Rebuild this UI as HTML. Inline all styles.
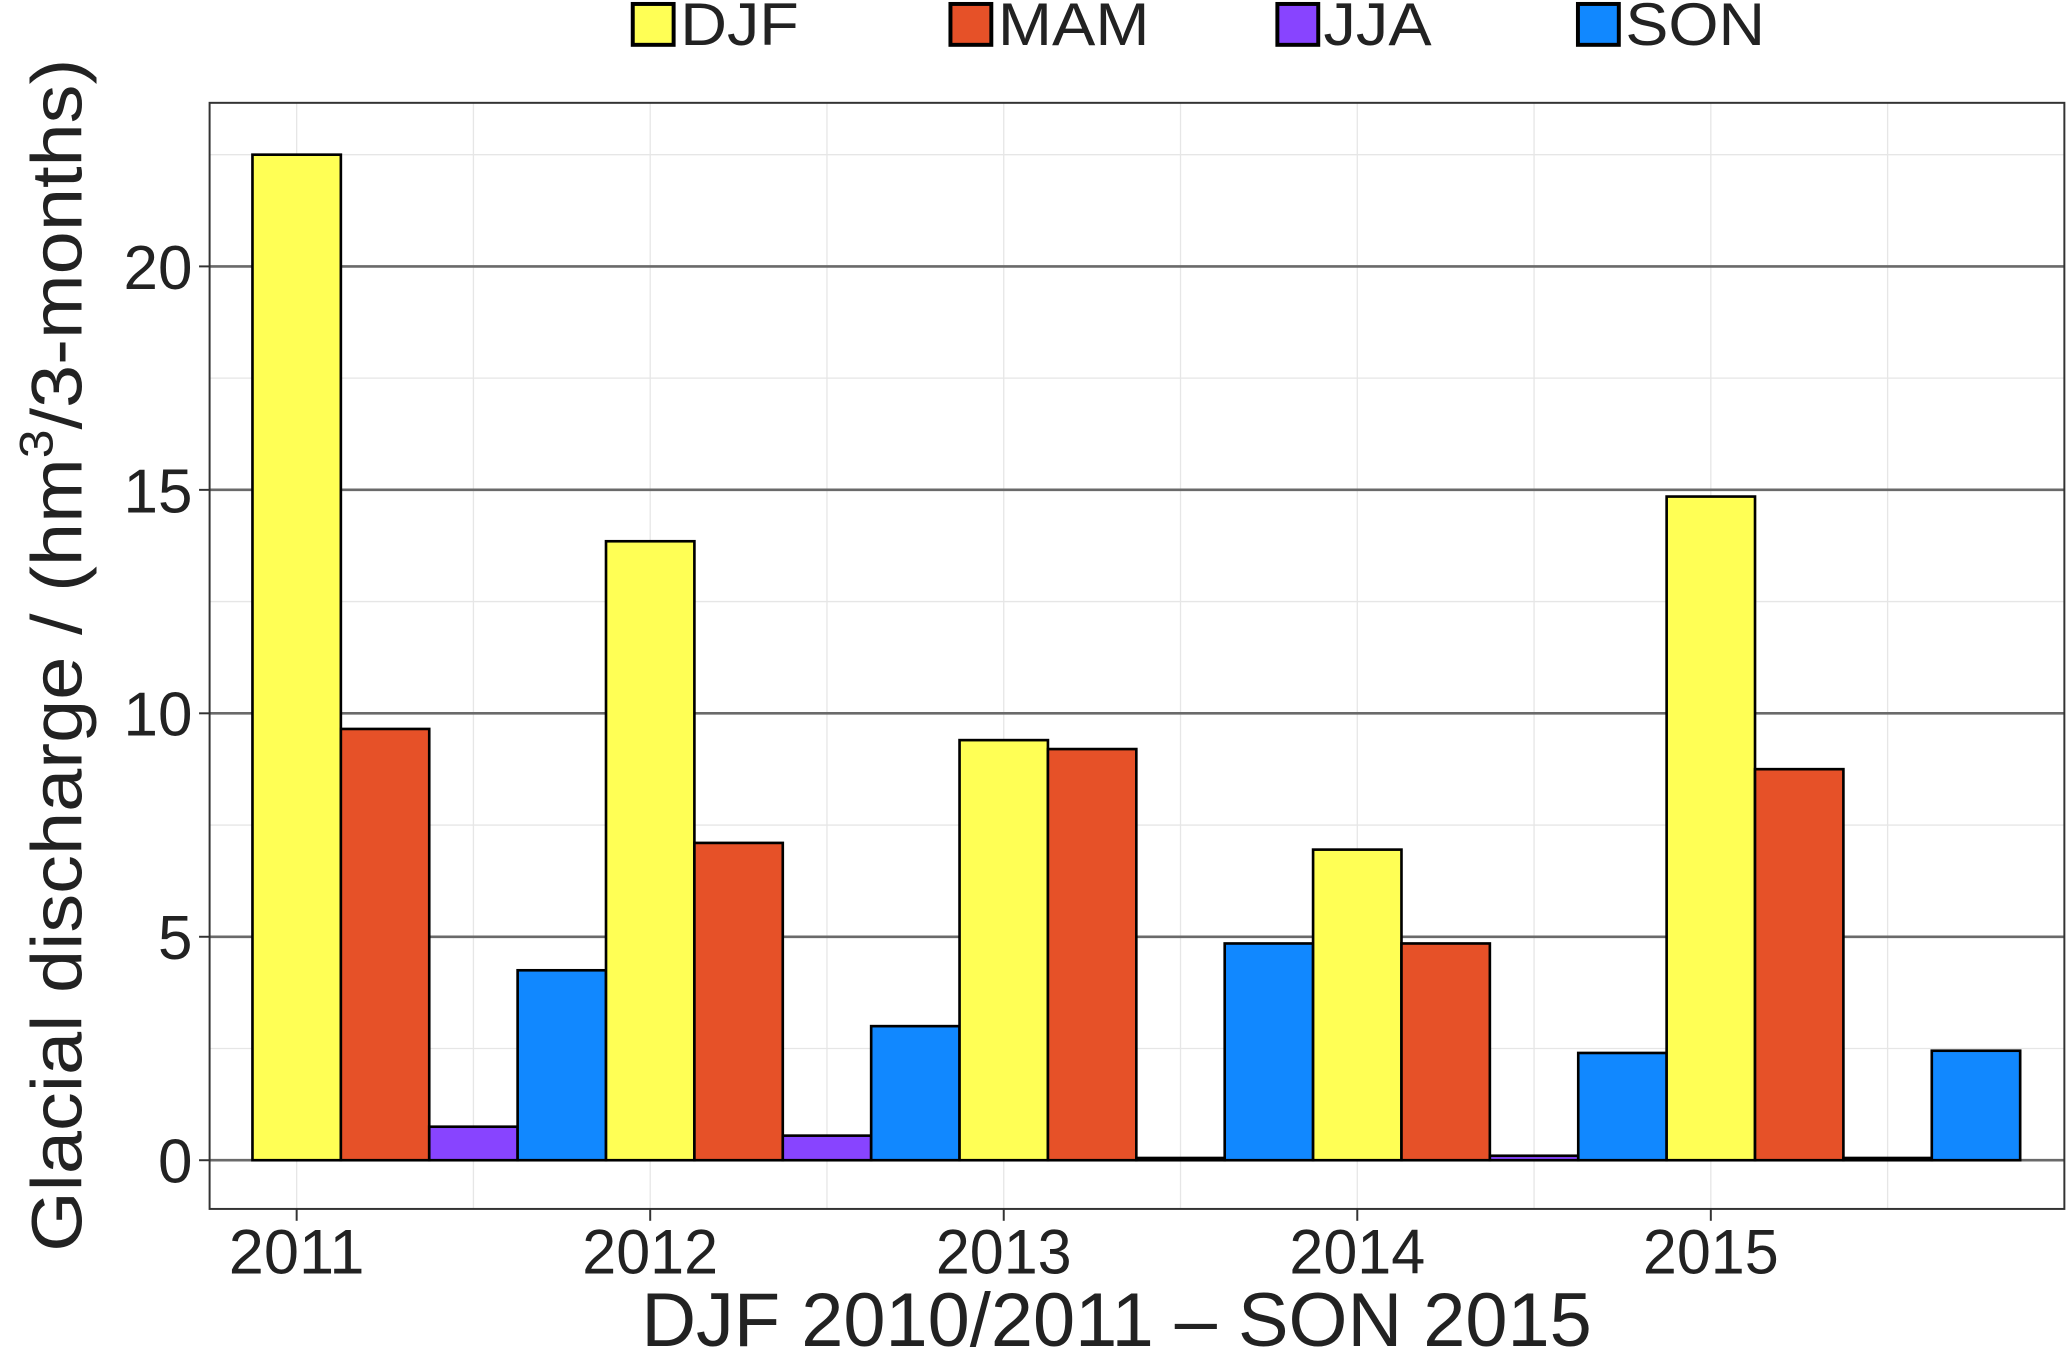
<!DOCTYPE html>
<html><head><meta charset="utf-8"><style>
html,body{margin:0;padding:0;background:#fff;}
svg{display:block;}
text{font-family:"Liberation Sans",sans-serif;fill:#222;}
</style></head><body>
<svg id="chart" width="2067" height="1350" viewBox="0 0 1568 1024" preserveAspectRatio="none" xmlns="http://www.w3.org/2000/svg">
<g id="grid"></g>
<g id="bars"></g>
<rect x="159" y="78" width="1407" height="839" fill="none" stroke="#333" stroke-width="1.5"/>
<g id="axes"></g>
<g>
  <g><rect x="480" y="3" width="31" height="31" fill="#FFFF55" stroke="#000" stroke-width="3"/><text x="516" y="34" font-size="46" textLength="90" lengthAdjust="spacingAndGlyphs">DJF</text></g>
  <g><rect x="721" y="3" width="31" height="31" fill="#E65128" stroke="#000" stroke-width="3"/><text x="757" y="34" font-size="46" textLength="115" lengthAdjust="spacingAndGlyphs">MAM</text></g>
  <g><rect x="969" y="3" width="31" height="31" fill="#8844FF" stroke="#000" stroke-width="3"/><text x="1004" y="34" font-size="46" textLength="82" lengthAdjust="spacingAndGlyphs">JJA</text></g>
  <g><rect x="1197" y="3" width="31" height="31" fill="#1188FF" stroke="#000" stroke-width="3"/><text x="1233" y="34" font-size="46" textLength="106" lengthAdjust="spacingAndGlyphs">SON</text></g>
</g>
<text x="847" y="1021" font-size="58" text-anchor="middle" textLength="721" lengthAdjust="spacingAndGlyphs">DJF 2010/2011 – SON 2015</text>
<text transform="translate(62,497) rotate(-90)" font-size="54" text-anchor="middle" textLength="905" lengthAdjust="spacingAndGlyphs">Glacial discharge / (hm<tspan font-size="36" dy="-22">3</tspan><tspan dy="22">/3-months)</tspan></text>
</svg>
<script>
const years = ["2011","2012","2013","2014","2015"];
const seasons = ["DJF","MAM","JJA","SON"];
const djf = [22.5, 13.85, 9.4, 6.95, 14.85];
const mam = [9.65, 7.1, 9.2, 4.85, 8.75];
const jja = [0.75, 0.55, 0.05, 0.1, 0.05];
const son = [4.25, 3.0, 4.85, 2.4, 2.45];
const yTicks = [0, 5, 10, 15, 20];
const yMinor = [2.5, 7.5, 12.5, 17.5, 22.5];

const NS = "http://www.w3.org/2000/svg";
const colors = ["#FFFF55","#E65128","#8844FF","#1188FF"];
const L = 159, R = 1566, T = 78, B = 917;
const xMin = -0.985, xMax = 20.0;
const yMin = -1.09, yMax = 23.66;
function xs(i){ return L + (i - xMin) / (xMax - xMin) * (R - L); }
function ys(v){ return B - (v - yMin) / (yMax - yMin) * (B - T); }
function mk(tag, attrs, parent){ const e = document.createElementNS(NS, tag); for (const k in attrs) e.setAttribute(k, attrs[k]); parent.appendChild(e); return e; }
const grid = document.getElementById('grid'), bars = document.getElementById('bars'), axes = document.getElementById('axes');

yMinor.forEach(v => {
  const l = mk('line', {x1:L, x2:R, y1:ys(v), y2:ys(v), stroke:'#e6e6e6', 'stroke-width':1}, grid);
  
  
});
years.forEach((y, k) => {
  [4*k, 4*k+2].forEach(i => {
    const l = mk('line', {x1:xs(i), x2:xs(i), y1:T, y2:B, stroke:'#e6e6e6', 'stroke-width':1}, grid);
    
    
  });
});
yTicks.forEach(v => {
  const l = mk('line', {x1:L, x2:R, y1:ys(v), y2:ys(v), stroke:'#6a6a6a', 'stroke-width':2}, grid);
  
  
  const t = mk('line', {x1:L-8, x2:L, y1:ys(v), y2:ys(v), stroke:'#333', 'stroke-width':1.5}, axes);
  
  
  const tx = mk('text', {x:L-13, y:ys(v)+17, 'font-size':47, 'text-anchor':'end'}, axes);
  
  
  tx.textContent = String(v);
});
const series = [djf, mam, jja, son];
const bw = xs(1) - xs(0);
years.forEach((y, k) => {
  series.forEach((s, j) => {
    const i = 4*k + j;
    const top = ys(s[k]), base = ys(0);
    const r = mk('rect', {x:xs(i)-bw/2, y:top, width:bw, height:Math.max(base-top, 0.5), fill:colors[j], stroke:'#000', 'stroke-width':2}, bars);
    
    
  });
  const t = mk('line', {x1:xs(4*k), x2:xs(4*k), y1:B, y2:B+9, stroke:'#333', 'stroke-width':1.5}, axes);
  
  
  const tx = mk('text', {x:xs(4*k), y:966, 'font-size':48, 'text-anchor':'middle', textLength:103, lengthAdjust:'spacingAndGlyphs'}, axes);
  
  
  tx.textContent = y;
});
</script>
</body></html>
